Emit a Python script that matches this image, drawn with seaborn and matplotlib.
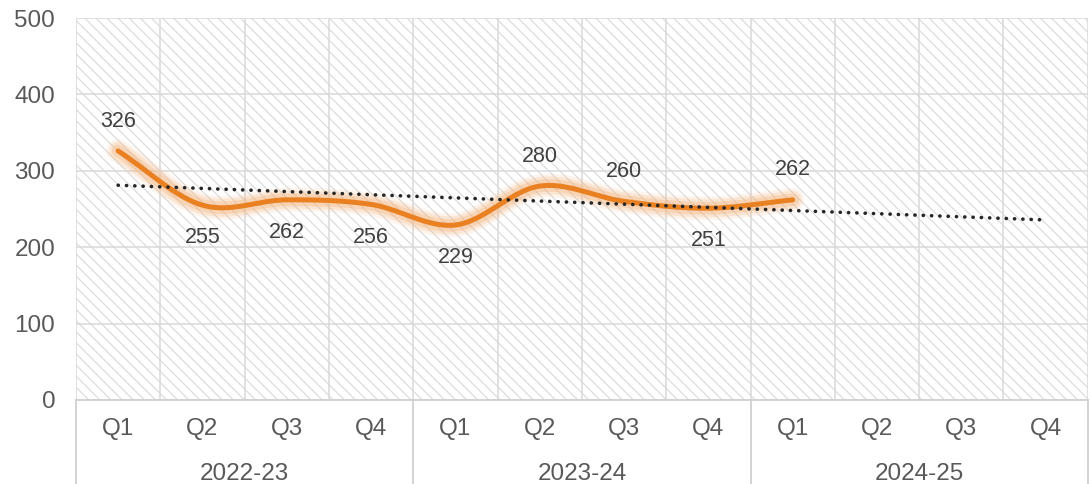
import numpy as np
import pandas as pd
import matplotlib
matplotlib.use("Agg")
import matplotlib.pyplot as plt
import matplotlib.transforms as mtransforms
from matplotlib.patches import Rectangle
import seaborn as sns

# Data
years = ["2022-23", "2023-24", "2024-25"]
quarters = ["Q1", "Q2", "Q3", "Q4"]
values = [326, 255, 262, 256, 229, 280, 260, 251, 262]
label_above = [True, False, False, False, False, True, True, False, True]

sns.set_style("white")
plt.rcParams["font.family"] = ["Liberation Sans", "DejaVu Sans"]
plt.rcParams["hatch.linewidth"] = 0.8

n_cat = len(years) * len(quarters)
x = np.arange(1, len(values) + 1)
y = np.array(values, dtype=float)


def catmull_rom(xs, ys, steps=40):
    # smoothed line like the spreadsheet "smoothed line" option
    px = np.concatenate([[2 * xs[0] - xs[1]], xs, [2 * xs[-1] - xs[-2]]])
    py = np.concatenate([[2 * ys[0] - ys[1]], ys, [2 * ys[-1] - ys[-2]]])
    out_x, out_y = [], []
    for i in range(1, len(px) - 2):
        t = np.linspace(0, 1, steps, endpoint=False)
        for p, out in ((px, out_x), (py, out_y)):
            p0, p1, p2, p3 = p[i - 1], p[i], p[i + 1], p[i + 2]
            c1 = p1 + (p2 - p0) / 6
            c2 = p2 - (p3 - p1) / 6
            out.extend((1 - t) ** 3 * p1 + 3 * (1 - t) ** 2 * t * c1
                       + 3 * (1 - t) * t ** 2 * c2 + t ** 3 * p2)
    out_x.append(xs[-1])
    out_y.append(ys[-1])
    return np.array(out_x), np.array(out_y)


sx, sy = catmull_rom(x.astype(float), y)
smooth_df = pd.DataFrame({"x": sx, "y": sy})

# linear trend, forecast to the end of the axis
coef = np.polyfit(x, y, 1)
trend_x = np.arange(1, n_cat + 1)
trend_df = pd.DataFrame({"x": trend_x, "y": np.polyval(coef, trend_x)})

fig, ax = plt.subplots(figsize=(10.9, 4.84), dpi=100)
fig.subplots_adjust(left=0.0697, right=0.998, top=0.9628, bottom=0.1736)

# hatched plot area
ax.add_patch(Rectangle((0, 0), 1, 1, transform=ax.transAxes, facecolor="white",
                       edgecolor="#d9d9d9", lw=0, hatch="\\\\\\", zorder=0))

# glow under the line
for lw, a in ((17, 0.15), (13, 0.25), (9, 0.4)):
    ax.plot(sx, sy, color="#F5B987", lw=lw, alpha=a, solid_capstyle="round", zorder=2)
sns.lineplot(data=smooth_df, x="x", y="y", ax=ax, color="#E98123", lw=3.6,
             sort=False, zorder=3)
ax.lines[-1].set_solid_capstyle("round")
sns.lineplot(data=trend_df, x="x", y="y", ax=ax, color="#262626", lw=2.6,
             linestyle=(0, (0.05, 2.25)), zorder=4)
ax.lines[-1].set_dash_capstyle("round")

for xi, v, up in zip(x, values, label_above):
    ax.annotate(str(v), (xi, v), xytext=(0, 21.5 if up else -23.5),
                textcoords="offset points", ha="center", va="center",
                fontsize=15.5, color="#404040", zorder=5)

ax.set_xlim(0.5, n_cat + 0.5)
ax.set_ylim(0, 500)
ax.set_yticks(range(0, 501, 100))
ax.set_xticks(range(1, n_cat + 1))
ax.set_xticklabels(quarters * len(years))
ax.set_xticks(np.arange(0.5, n_cat + 1, 1), minor=True)
ax.grid(False)
ax.grid(True, which="minor", axis="x", color="#d9d9d9", lw=1.1, zorder=1)
ax.grid(True, which="major", axis="y", color="#d9d9d9", lw=1.1, zorder=1)
ax.set_axisbelow(True)
ax.tick_params(axis="both", which="both", length=0, labelsize=17.5, labelcolor="#595959")
ax.tick_params(axis="x", pad=13)
ax.tick_params(axis="y", pad=15)
ax.set_xlabel("")
ax.set_ylabel("")
for s in ["top", "right", "left"]:
    ax.spines[s].set_visible(False)
ax.spines["bottom"].set_color("#d0d0d0")
ax.spines["bottom"].set_linewidth(1.3)

# year level of the category axis
trans = mtransforms.blended_transform_factory(ax.transData, ax.transAxes)
for i, yr in enumerate(years):
    ax.text(i * 4 + 2.5, -0.193, yr, transform=trans, ha="center", va="center",
            fontsize=17.5, color="#595959")
for b in np.arange(0.5, n_cat + 1, 4):
    ax.plot([b, b], [0, -0.23], transform=trans, color="#d0d0d0", lw=1.3,
            clip_on=False)

fig.savefig("out.png", dpi=100)
